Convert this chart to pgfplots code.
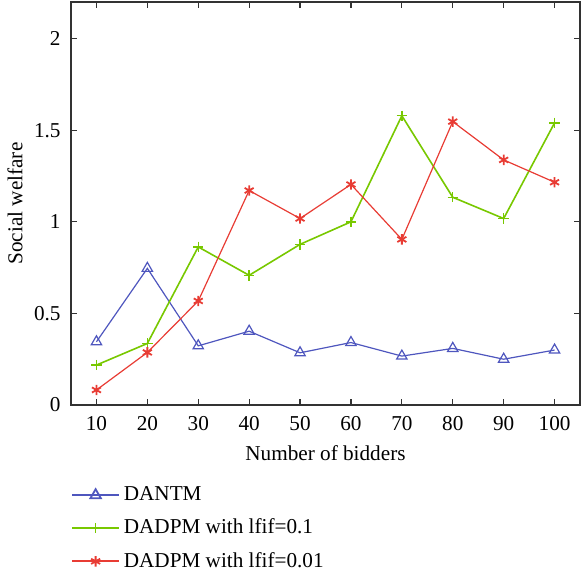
\documentclass[border=0pt]{standalone}
\usepackage{fontspec}
\setmainfont{Liberation Serif}
\usepackage{pgfplots}
\pgfplotsset{compat=1.18}
\definecolor{cblue}{RGB}{78,86,190}
\definecolor{cgreen}{RGB}{120,200,0}
\definecolor{cred}{RGB}{232,60,52}
\definecolor{axgray}{RGB}{50,50,50}
\begin{document}
\fontsize{10.6}{12.5}\selectfont
\begin{tikzpicture}
\path[use as bounding box] (-35.5pt,-86.5pt) rectangle (255pt,202.5pt);
\begin{axis}[
 at={(0pt,0pt)}, anchor=south west,
 scale only axis, width=254.5pt, height=201.5pt,
 xmin=5, xmax=105, ymin=0, ymax=2.2,
 xtick={10,20,...,100}, ytick={0,0.5,1,1.5,2},
 yticklabels={0,0.5,1,1.5,2},
 tick align=inside, major tick length=2.8pt,
 axis line style={axgray, line width=0.6pt},
 tick style={axgray, line width=0.6pt},
 /pgf/number format/assume math mode=true,
 x tick label style={yshift=-2pt},
 y tick label style={xshift=-1.5pt},
 xlabel={Number of bidders}, ylabel={Social welfare},
 xlabel style={at={(axis description cs:0.5,0)}, anchor=center, yshift=-24pt},
 ylabel style={at={(axis description cs:0,0.5)}, anchor=center, yshift=28pt},
 legend style={draw=none, fill=none, at={(axis description cs:0,0)}, anchor=north west,
   xshift=-3pt, yshift=-36.6pt, cells={anchor=west}, row sep=3.6pt},
 legend image code/.code={\draw[mark repeat=2,mark phase=2,line width=0.9pt] plot coordinates {(0cm,0cm)(0.41cm,0cm)(0.82cm,0cm)};},
]
\addplot[draw=cblue, color=cblue, line width=0.6pt, mark=triangle, mark size=3pt, mark options={solid, cblue}] coordinates {
(10,0.345) (20,0.746) (30,0.323) (40,0.403) (50,0.285) (60,0.341) (70,0.267) (80,0.309) (90,0.250) (100,0.300)};
\addlegendentry{DANTM}
\addplot[draw=cgreen, color=cgreen, line width=0.8pt, mark=+, mark size=2.6pt, mark options={solid,line width=0.7pt,cgreen}] coordinates {
(10,0.218) (20,0.336) (30,0.863) (40,0.708) (50,0.877) (60,1.000) (70,1.579) (80,1.134) (90,1.018) (100,1.540)};
\addlegendentry{DADPM with lfif=0.1}
\addplot[draw=cred, color=cred, line width=0.6pt, mark=asterisk, mark size=2.6pt, mark options={solid,line width=0.9pt,cred}] coordinates {
(10,0.082) (20,0.287) (30,0.568) (40,1.171) (50,1.018) (60,1.204) (70,0.904) (80,1.547) (90,1.338) (100,1.216)};
\addlegendentry{DADPM with lfif=0.01}
\end{axis}
\end{tikzpicture}
\end{document}
